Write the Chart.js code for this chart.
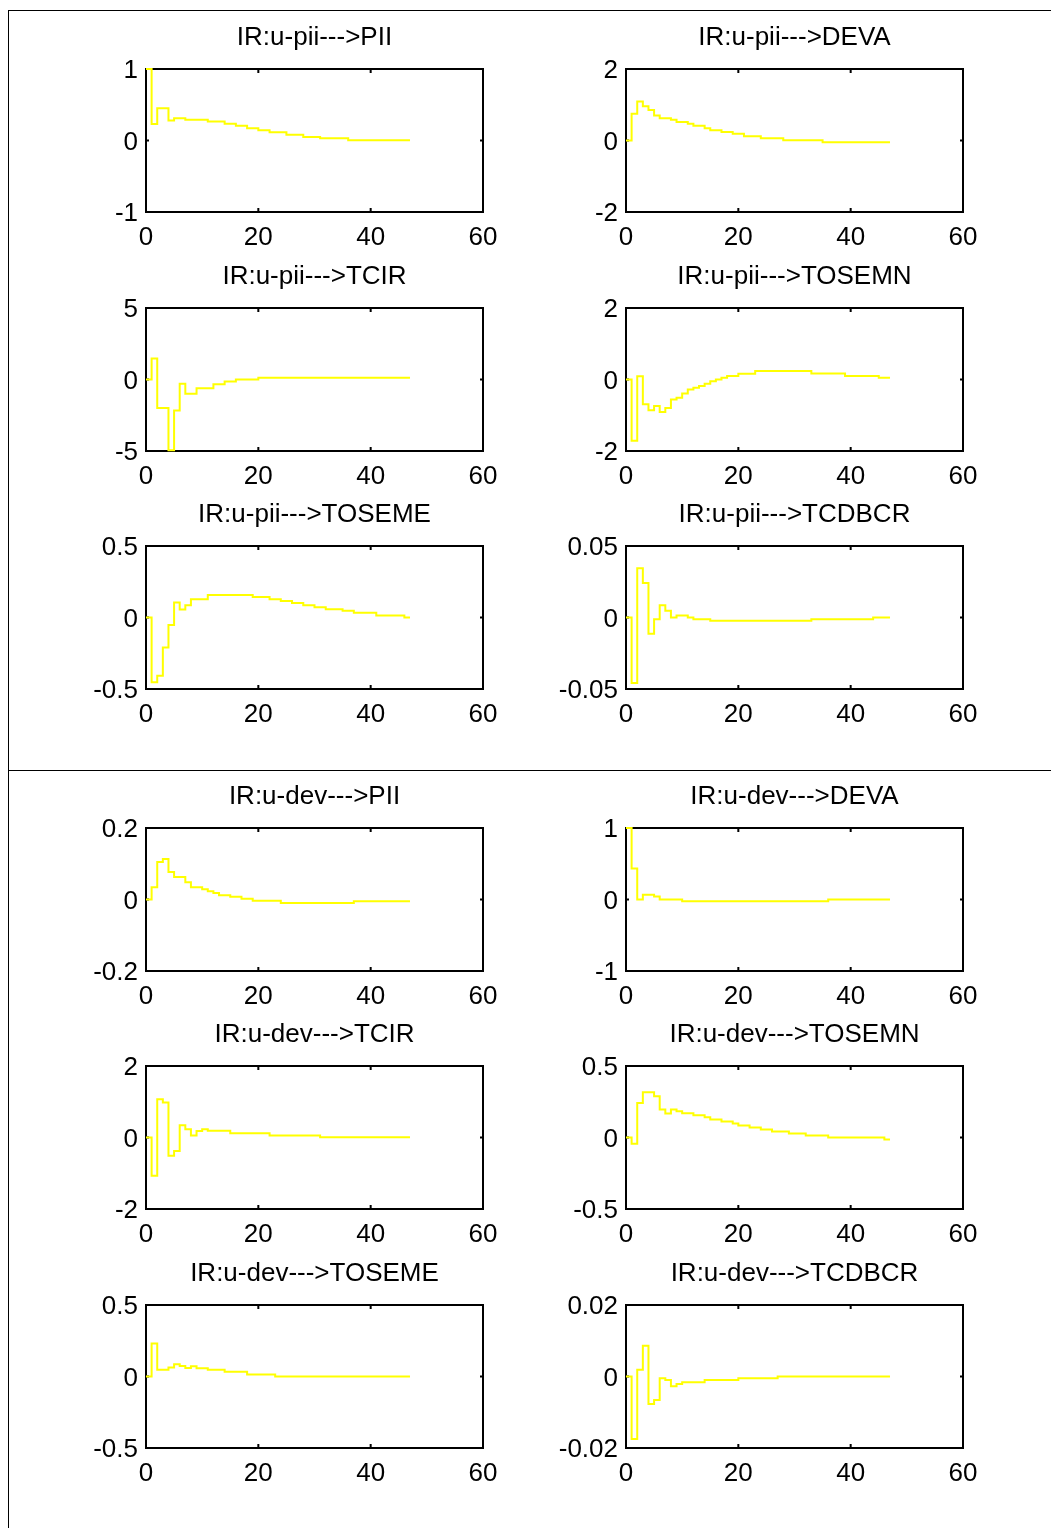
<!DOCTYPE html>
<html>
<head>
<meta charset="utf-8">
<title>IR plots</title>
<script src="https://cdn.jsdelivr.net/npm/chart.js@4.4.1/dist/chart.umd.min.js"></script>
<style>
    body { margin: 0; background: #fff; }
    #page { position: relative; width: 1051px; height: 1528px; overflow: hidden; background: #fff; }
    .frame { position: absolute; left: 8px; top: 10px; width: 1043px; height: 1530px;
             border-top: 1px solid #000; border-left: 1px solid #000; }
    .divider { position: absolute; left: 8px; top: 770px; width: 1043px; height: 1px; background: #000; }
    canvas { position: absolute; }
</style>
</head>
<body>
<div id="page">
    <div class="frame"></div>
    <div class="divider"></div>
</div>
<script>
// horizon 0..47, stairs
const xTicks = [0, 20, 40, 60];

const titles = [
    "IR:u-pii--->PII", "IR:u-pii--->DEVA",
    "IR:u-pii--->TCIR", "IR:u-pii--->TOSEMN",
    "IR:u-pii--->TOSEME", "IR:u-pii--->TCDBCR",
    "IR:u-dev--->PII", "IR:u-dev--->DEVA",
    "IR:u-dev--->TCIR", "IR:u-dev--->TOSEMN",
    "IR:u-dev--->TOSEME", "IR:u-dev--->TCDBCR"
];

const yLimits = [1, 2, 5, 2, 0.5, 0.05, 0.2, 1, 2, 0.5, 0.5, 0.02];
const yTickLabels = [
    ["-1", "0", "1"], ["-2", "0", "2"], ["-5", "0", "5"], ["-2", "0", "2"],
    ["-0.5", "0", "0.5"], ["-0.05", "0", "0.05"], ["-0.2", "0", "0.2"], ["-1", "0", "1"],
    ["-2", "0", "2"], ["-0.5", "0", "0.5"], ["-0.5", "0", "0.5"], ["-0.02", "0", "0.02"]
];

const piiToPII = [1.0, 0.23, 0.45, 0.45, 0.28, 0.31, 0.31, 0.29, 0.29, 0.29, 0.29,
    0.265, 0.265, 0.265, 0.235, 0.235, 0.205, 0.205, 0.17, 0.17, 0.145, 0.145,
    0.115, 0.115, 0.115, 0.08, 0.08, 0.08, 0.05, 0.05, 0.05,
    0.033, 0.033, 0.033, 0.033, 0.033,
    0.005, 0.005, 0.005, 0.005, 0.005, 0.005, 0.005, 0.005, 0.005, 0.005, 0.005, 0.005];

const piiToDEVA = [0, 0.75, 1.09, 0.96, 0.85, 0.70, 0.62, 0.62, 0.58, 0.52, 0.52, 0.47,
    0.41, 0.41, 0.34, 0.29, 0.29, 0.24, 0.24, 0.19, 0.19, 0.12, 0.12, 0.12,
    0.065, 0.065, 0.065, 0.065, 0.01, 0.01, 0.01, 0.01, 0.01, 0.01, 0.01,
    -0.05, -0.05, -0.05, -0.05, -0.05, -0.05, -0.05, -0.05, -0.05, -0.05, -0.05, -0.05, -0.05];

const piiToTCIR = [0, 1.46, -2.0, -2.0, -4.95, -2.16, -0.3, -1.0, -1.0, -0.61, -0.61, -0.61,
    -0.33, -0.33, -0.14, -0.14, 0, 0, 0, 0,
    0.12, 0.12, 0.12, 0.12, 0.12, 0.12, 0.12, 0.12, 0.12, 0.12, 0.12, 0.12, 0.12, 0.12,
    0.12, 0.12, 0.12, 0.12, 0.12, 0.12, 0.12, 0.12, 0.12, 0.12, 0.12, 0.12, 0.12, 0.12];

const piiToTOSEMN = [0, -1.71, 0.09, -0.69, -0.86, -0.74, -0.91, -0.80, -0.56, -0.51, -0.39,
    -0.28, -0.23, -0.18, -0.12, -0.05, 0, 0.05, 0.10, 0.10, 0.16, 0.16, 0.16,
    0.24, 0.24, 0.24, 0.24, 0.24, 0.24, 0.24, 0.24, 0.24, 0.24,
    0.17, 0.17, 0.17, 0.17, 0.17, 0.17,
    0.10, 0.10, 0.10, 0.10, 0.10, 0.10, 0.05, 0.05, 0.05];

const piiToTOSEME = [0, -0.453, -0.407, -0.209, -0.053, 0.105, 0.056, 0.086,
    0.128, 0.128, 0.128, 0.158, 0.158, 0.158, 0.158, 0.158, 0.158, 0.158, 0.158,
    0.144, 0.144, 0.144, 0.128, 0.128, 0.116, 0.116, 0.102, 0.102, 0.086, 0.086,
    0.072, 0.072, 0.058, 0.058, 0.058, 0.047, 0.047, 0.033, 0.033, 0.033, 0.033,
    0.014, 0.014, 0.014, 0.014, 0.014, 0, 0];

const piiToTCDBCR = [0, -0.0458, 0.0344, 0.0242, -0.0114, -0.0012, 0.0086, 0.0047, 0,
    0.0014, 0.0014, 0, -0.0012, -0.0012, -0.0012,
    -0.0023, -0.0023, -0.0023, -0.0023, -0.0023, -0.0023, -0.0023, -0.0023, -0.0023,
    -0.0023, -0.0023, -0.0023, -0.0023, -0.0023, -0.0023, -0.0023, -0.0023, -0.0023,
    -0.0012, -0.0012, -0.0012, -0.0012, -0.0012, -0.0012, -0.0012, -0.0012, -0.0012,
    -0.0012, -0.0012, 0, 0, 0, 0];

const devToPII = [0, 0.034, 0.105, 0.113, 0.077, 0.063, 0.063, 0.048, 0.034, 0.034, 0.029,
    0.023, 0.018, 0.012, 0.012, 0.0074, 0.0074, 0.002, 0.002,
    -0.0037, -0.0037, -0.0037, -0.0037, -0.0037,
    -0.010, -0.010, -0.010, -0.010, -0.010, -0.010, -0.010, -0.010, -0.010, -0.010,
    -0.010, -0.010, -0.010,
    -0.0047, -0.0047, -0.0047, -0.0047, -0.0047, -0.0047, -0.0047, -0.0047, -0.0047,
    -0.0047, -0.0047];

const devToDEVA = [1.0, 0.433, 0, 0.065, 0.065, 0.042, 0, 0, 0, 0,
    -0.023, -0.023, -0.023, -0.023, -0.023, -0.023, -0.023, -0.023, -0.023, -0.023,
    -0.023, -0.023, -0.023, -0.023, -0.023, -0.023, -0.023, -0.023, -0.023, -0.023,
    -0.023, -0.023, -0.023, -0.023, -0.023, -0.023,
    0, 0, 0, 0, 0, 0, 0, 0, 0, 0, 0, 0];

const devToTCIR = [0, -1.07, 1.07, 0.98, -0.51, -0.38, 0.34, 0.23, 0.056, 0.18, 0.23,
    0.19, 0.19, 0.19, 0.19, 0.12, 0.12, 0.12, 0.12, 0.12, 0.12, 0.12,
    0.056, 0.056, 0.056, 0.056, 0.056, 0.056, 0.056, 0.056, 0.056,
    0.01, 0.01, 0.01, 0.01, 0.01, 0.01, 0.01, 0.01, 0.01, 0.01, 0.01, 0.01, 0.01,
    0.01, 0.01, 0.01, 0.01];

const devToTOSEMN = [0, -0.044, 0.242, 0.316, 0.316, 0.288, 0.195, 0.167, 0.195, 0.184,
    0.170, 0.170, 0.156, 0.156, 0.142, 0.126, 0.126, 0.112, 0.112, 0.098, 0.084, 0.084,
    0.070, 0.070, 0.056, 0.056, 0.042, 0.042, 0.042, 0.028, 0.028, 0.028,
    0.014, 0.014, 0.014, 0.014, 0, 0, 0, 0, 0, 0, 0, 0, 0, 0, -0.014, -0.014];

const devToTOSEME = [0, 0.230, 0.047, 0.047, 0.063, 0.086, 0.074, 0.060, 0.072, 0.058, 0.058,
    0.047, 0.047, 0.047, 0.033, 0.033, 0.033, 0.033, 0.014, 0.014, 0.014, 0.014, 0.014,
    0, 0, 0, 0, 0, 0, 0, 0, 0, 0, 0, 0, 0, 0, 0, 0, 0, 0, 0, 0, 0, 0, 0, 0, 0];

const devToTCDBCR = [0, -0.0175, 0.0019, 0.0086, -0.0077, -0.0066, -0.0005, -0.001, -0.0027,
    -0.0021, -0.0016, -0.0016, -0.0016, -0.0016,
    -0.001, -0.001, -0.001, -0.001, -0.001, -0.001,
    -0.0005, -0.0005, -0.0005, -0.0005, -0.0005, -0.0005, -0.0005,
    0, 0, 0, 0, 0, 0, 0, 0, 0, 0, 0, 0, 0, 0, 0, 0, 0, 0, 0, 0, 0];

const series = [piiToPII, piiToDEVA, piiToTCIR, piiToTOSEMN, piiToTOSEME, piiToTCDBCR,
    devToPII, devToDEVA, devToTCIR, devToTOSEMN, devToTOSEME, devToTCDBCR];

// plot box placement (px of the page)
const colLeft = [146, 626];
const rowTop = [69, 308, 546, 828, 1066, 1305];
const boxW = 337, boxH = 143;
const padL = 100, padT = 55, padR = 30, padB = 45;

const fontSpec = { family: "'Liberation Sans', Arial, sans-serif", size: 26 };

// matlab-like box with inward ticks
const boxPlugin = {
    id: 'matlabBox',
    beforeDatasetsDraw(chart) {
        const { ctx, chartArea: a, scales } = chart;
        ctx.save();
        ctx.strokeStyle = '#000';
        ctx.lineWidth = 2;
        ctx.strokeRect(a.left, a.top, a.right - a.left, a.bottom - a.top);
        ctx.beginPath();
        scales.x.ticks.forEach(t => {
            const px = scales.x.getPixelForValue(t.value);
            ctx.moveTo(px, a.bottom); ctx.lineTo(px, a.bottom - 4);
            ctx.moveTo(px, a.top); ctx.lineTo(px, a.top + 4);
        });
        scales.y.ticks.forEach(t => {
            const py = scales.y.getPixelForValue(t.value);
            ctx.moveTo(a.left, py); ctx.lineTo(a.left + 3, py);
            ctx.moveTo(a.right, py); ctx.lineTo(a.right - 3, py);
        });
        ctx.stroke();
        ctx.restore();
    }
};

const page = document.getElementById('page');

series.forEach((vals, k) => {
    const col = k % 2;
    const row = Math.floor(k / 2);
    const cv = document.createElement('canvas');
    const w = padL + boxW + padR, h = padT + boxH + padB;
    cv.width = w; cv.height = h;
    cv.style.width = w + 'px'; cv.style.height = h + 'px';
    cv.style.left = (colLeft[col] - padL) + 'px';
    cv.style.top = (rowTop[row] - padT) + 'px';
    page.appendChild(cv);

    const lim = yLimits[k];
    const labels = yTickLabels[k];

    new Chart(cv, {
        type: 'line',
        data: {
            datasets: [{
                data: vals.map((v, i) => ({ x: i, y: v })),
                stepped: true,
                borderColor: '#ffff00',
                borderWidth: 2,
                pointRadius: 0,
                fill: false,
                clip: false
            }]
        },
        options: {
            responsive: false,
            animation: false,
            layout: { padding: { left: 0, right: padR, top: 0, bottom: 0 } },
            plugins: {
                legend: { display: false },
                tooltip: { enabled: false },
                title: {
                    display: true,
                    text: titles[k],
                    fullSize: false,
                    color: '#000',
                    font: { ...fontSpec, weight: 'normal' },
                    padding: { top: 8, bottom: 15.8 }
                }
            },
            scales: {
                x: {
                    type: 'linear',
                    min: 0, max: 60,
                    afterBuildTicks: s => { s.ticks = xTicks.map(v => ({ value: v })); },
                    afterFit: s => { s.height = padB; },
                    grid: { display: false, drawTicks: false },
                    border: { display: false },
                    ticks: { color: '#000', font: fontSpec, padding: 10, maxRotation: 0, autoSkip: false }
                },
                y: {
                    type: 'linear',
                    min: -lim, max: lim,
                    afterBuildTicks: s => { s.ticks = [-lim, 0, lim].map(v => ({ value: v })); },
                    afterFit: s => { s.width = padL; },
                    grid: { display: false, drawTicks: false },
                    border: { display: false },
                    ticks: {
                        color: '#000', font: fontSpec, padding: 8, autoSkip: false,
                        labelOffset: 2,
                        callback: (v, i) => labels[i]
                    }
                }
            }
        },
        plugins: [boxPlugin]
    });
});
</script>
</body>
</html>
